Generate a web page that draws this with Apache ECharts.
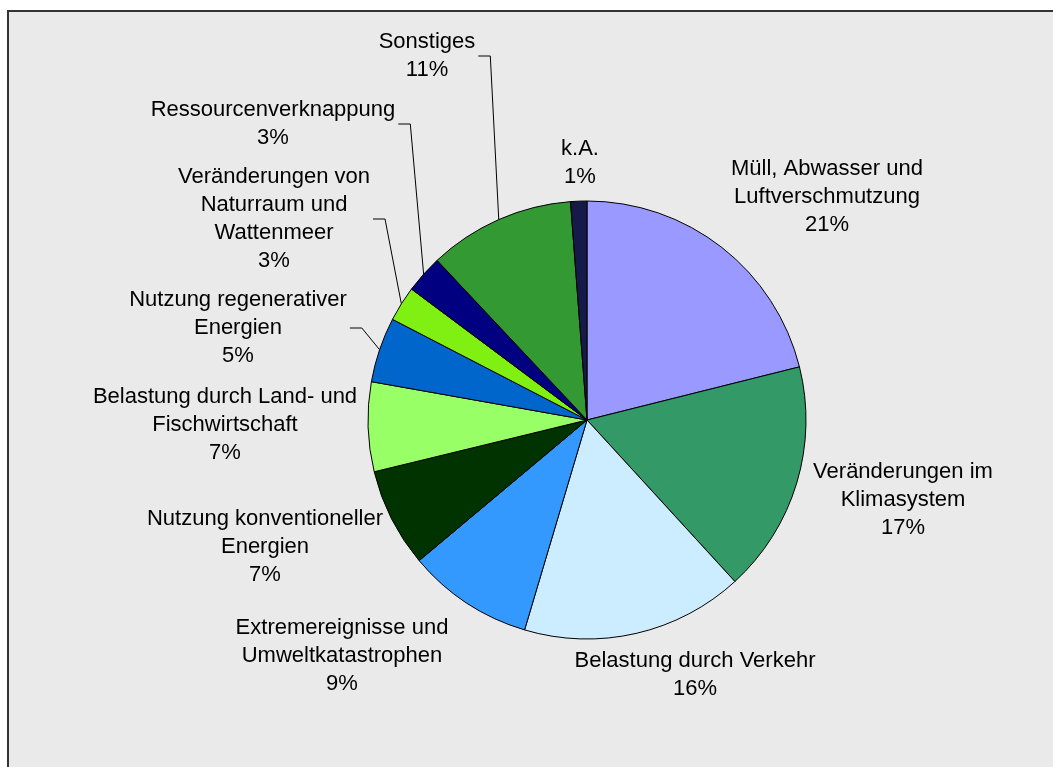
<!DOCTYPE html>
<html>
<head>
<meta charset="utf-8">
<script src="https://cdn.jsdelivr.net/npm/echarts@6/dist/echarts.min.js"></script>
<style>
    html, body { margin: 0; padding: 0; background: #fff; }
    #chart { width: 1053px; height: 767px; }
</style>
</head>
<body>
<div id="chart"></div>
<script>
    // Kategorien im Uhrzeigersinn ab 12 Uhr
    const categories = [
        'Müll, Abwasser und\nLuftverschmutzung',
        'Veränderungen im\nKlimasystem',
        'Belastung durch Verkehr',
        'Extremereignisse und\nUmweltkatastrophen',
        'Nutzung konventioneller\nEnergien',
        'Belastung durch Land- und\nFischwirtschaft',
        'Nutzung regenerativer\nEnergien',
        'Veränderungen von\nNaturraum und\nWattenmeer',
        'Ressourcenverknappung',
        'Sonstiges',
        'k.A.'
    ];
    // Anteile in %
    const shares = [21.1, 17.1, 16.4, 9.3, 7.3, 6.6, 4.8, 2.6, 2.8, 10.8, 1.2];
    const colors = ['#9999FF', '#339966', '#CCECFF', '#3399FF', '#003300', '#99FF66',
        '#0066CC', '#80F012', '#000080', '#339933', '#151A48'];

    // Label-Platzierung (Mittelpunkt relativ zum Kreismittelpunkt) und Führungslinien
    const CX = 587, CY = 420, R = 219;
    const labelOffsets = [
        [240, -223], [316, 80], [108, 255], [-245, 236], [-322, 127], [-362, 5],
        [-349, -92], [-313, -201], [-314, -296], [-160, -364], [-7, -257]
    ];
    const withLine = [false, false, false, false, false, false, true, true, true, true, false];

    const chart = echarts.init(document.getElementById('chart'));

    const option = {
        animation: false,
        backgroundColor: '#fff',
        graphic: [{
            type: 'rect',
            silent: true,
            z: -10,
            shape: { x: 8, y: 11, width: 1100, height: 800 },
            style: { fill: '#EAEAEA', stroke: '#333', lineWidth: 2 }
        }],
        series: [{
            type: 'pie',
            center: [CX, CY],
            radius: R,
            startAngle: 90,
            clockwise: true,
            avoidLabelOverlap: false,
            itemStyle: {
                borderColor: '#000',
                borderWidth: 1
            },
            label: {
                show: true,
                position: 'outside',
                color: '#000',
                fontFamily: 'Liberation Sans, Arial, sans-serif',
                fontSize: 22,
                lineHeight: 28,
                formatter: p => p.name + '\n' + Math.round(p.value) + '%'
            },
            labelLine: {
                lineStyle: { color: '#000', width: 1 }
            },
            emphasis: { disabled: true },
            labelLayout: function (params) {
                const i = params.dataIndex;
                const x = CX + labelOffsets[i][0];
                const y = CY + labelOffsets[i][1];
                const res = { x: x, y: y, align: 'center', verticalAlign: 'middle' };
                if (withLine[i] && params.labelLinePoints) {
                    const p0 = params.labelLinePoints[0];
                    const endX = x + params.labelRect.width / 2 + 3;
                    res.labelLinePoints = [p0, [endX + 12, y], [endX, y]];
                }
                return res;
            },
            data: categories.map((name, i) => ({
                name: name,
                value: shares[i],
                itemStyle: { color: colors[i] },
                labelLine: { show: withLine[i] }
            }))
        }]
    };

    chart.setOption(option);
</script>
</body>
</html>
